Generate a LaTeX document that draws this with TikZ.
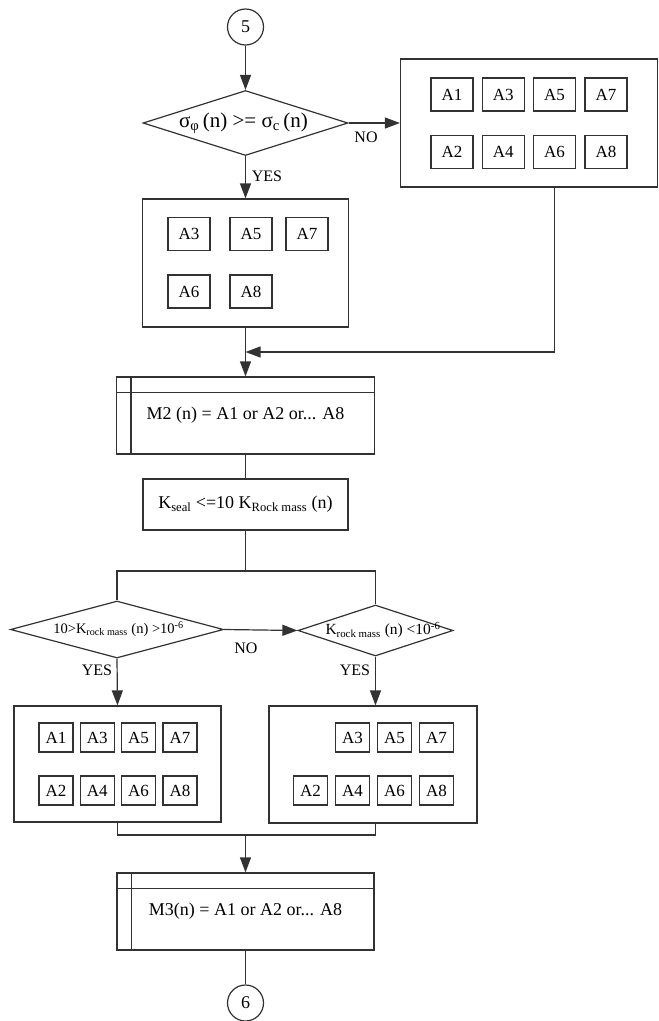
\documentclass[tikz,border=0pt]{standalone}
\usepackage{fontspec}
\setmainfont{Liberation Serif}
\definecolor{lineclr}{RGB}{50,50,50}
\usetikzlibrary{arrows.meta, positioning, shapes.geometric, calc}

\tikzset{
  box/.style={draw=lineclr, rectangle, inner sep=0pt},
  abox/.style={draw=lineclr, rectangle, inner sep=0pt, font=\fontsize{17}{17}\selectfont},
  dec/.style={draw=lineclr, diamond, inner sep=0pt},
  conn/.style={draw=lineclr, circle, minimum size=36pt, inner sep=0pt, font=\fontsize{18}{18}\selectfont},
  arr/.style={draw=lineclr, -{Triangle[length=15pt, width=11pt]}},
  lbl/.style={font=\fontsize{16}{16}\selectfont},
  big/.style={font=\fontsize{18}{18}\selectfont}
}

\begin{document}
\begin{tikzpicture}[x=1pt, y=-1pt, line width=1.2pt]
  \useasboundingbox (0,0) rectangle (659,1021);
  % Connector in
  \node[conn] (c5) at (245.5,27) {5};
  % Stress check
  \node[dec, minimum width=205pt, minimum height=65pt] (d1) at (245.5,123) {};
  \node[font=\fontsize{21}{21}\selectfont] (d1t) at (243.5,123)
    {σ\textsubscript{φ}\,(n) >= σ\textsubscript{c}\,(n)};
  \draw[arr] (c5) -- (d1.north);
  % NO branch: all alternatives
  \node[box, minimum width=257pt, minimum height=128pt] (rb) at (529,123) {};
  \foreach \c in {0,...,3} {
    \pgfmathtruncatemacro\ia{2*\c+1}
    \pgfmathtruncatemacro\ib{2*\c+2}
    \node[abox, minimum width=42pt, minimum height=33pt] (rA\ia) at (452+\c*51.3, 94.5) {A\ia};
    \node[abox, minimum width=42pt, minimum height=33pt] (rA\ib) at (452+\c*51.3, 152) {A\ib};
  }
  \draw[arr] (d1.east) -- (rb.west);
  \node[lbl] (no1) at (366,137) {NO};
  % YES branch
  \node[box, minimum width=206pt, minimum height=128pt] (b2) at (245.5,263) {};
  \foreach \a/\x/\y in {3/189/234, 5/251/234, 7/307/234, 6/189/291.5, 8/251/291.5}
    \node[abox, minimum width=42pt, minimum height=33pt] (mA\a) at (\x,\y) {A\a};
  \draw[arr] (d1.south) -- (b2.north);
  \node[lbl] (yes1) at (267,176) {YES};
  % Merge
  \coordinate (mg) at (245.5,352);
  \draw[arr] (rA5.south |- rb.south) |- (mg);
  % M2
  \node[box, big, minimum width=258pt, minimum height=77pt] (m2) at (245.5,415.5)
    {M2 (n) = A1 or A2 or... A8};
  \draw[lineclr] ($(m2.north west)+(0,16)$) -- ($(m2.north east)+(0,16)$);
  \draw[lineclr] ($(m2.north west)+(15,0)$) -- ($(m2.south west)+(15,0)$);
  \draw[arr] (b2.south) -- (m2.north);
  % Permeability
  \node[box, big, minimum width=205pt, minimum height=51pt] (k) at (245.5,504.5)
    {K\textsubscript{seal} <=10 K\textsubscript{Rock mass} (n)};
  \draw[lineclr] (m2.south) -- (k.north);
  % Split
  \coordinate (sp) at (245.5,571);
  \node[dec, minimum width=213pt, minimum height=57pt] (d2) at (117,629.5) {};
  \node[font=\fontsize{14.5}{14.5}\selectfont] (d2t) at (118.5,629)
    {10>K\textsubscript{rock mass} (n) >10\textsuperscript{-6}};
  \node[dec, minimum width=155pt, minimum height=51pt] (d3) at (375.5,630.5) {};
  \node[font=\fontsize{15.5}{15.5}\selectfont] (d3t) at (383,630)
    {K\textsubscript{rock mass} (n) <10\textsuperscript{-6}};
  \draw[lineclr] (k.south) -- (sp);
  \draw[lineclr] (d2.north) -- (d2.north |- sp) -- (d3.north |- sp) -- (d3.north);
  \draw[arr] (d2.east) -- (d3.west);
  \node[lbl] (no2) at (246,648) {NO};
  % Lower alternatives
  \node[box, minimum width=207pt, minimum height=116pt] (lb) at (117.5,764) {};
  \foreach \c in {0,...,3} {
    \pgfmathtruncatemacro\ia{2*\c+1}
    \pgfmathtruncatemacro\ib{2*\c+2}
    \node[abox, minimum width=34pt, minimum height=29pt] (lA\ia) at (56+\c*41.3, 737.5) {A\ia};
    \node[abox, minimum width=34pt, minimum height=29pt] (lA\ib) at (56+\c*41.3, 790.5) {A\ib};
  }
  \node[box, minimum width=208pt, minimum height=117pt] (rb2) at (373,764.5) {};
  \foreach \c in {0,...,3} {
    \pgfmathtruncatemacro\ib{2*\c+2}
    \node[abox, minimum width=34pt, minimum height=29pt] (kA\ib) at (310.5+\c*42, 790.5) {A\ib};
  }
  \foreach \c in {1,2,3} {
    \pgfmathtruncatemacro\ia{2*\c+1}
    \node[abox, minimum width=34pt, minimum height=29pt] (kA\ia) at (310.5+\c*42, 737.5) {A\ia};
  }
  \draw[arr] (d2.south) -- (lb.north);
  \draw[arr] (d3.south) -- (d3.south |- rb2.north);
  \node[lbl] (yes2) at (97,670) {YES};
  \node[lbl] (yes3) at (355,670) {YES};
  % Join
  \coordinate (jn) at (245.5,835);
  \draw[lineclr] (lb.south) -- (lb.south |- jn) -- (d3.south |- jn) -- (d3.south |- rb2.south);
  % M3
  \node[box, big, minimum width=257pt, minimum height=77pt] (m3) at (245.5,911.5)
    {M3(n) = A1 or A2 or... A8};
  \draw[lineclr] ($(m3.north west)+(0,16)$) -- ($(m3.north east)+(0,16)$);
  \draw[lineclr] ($(m3.north west)+(15,0)$) -- ($(m3.south west)+(15,0)$);
  \draw[arr] (jn) -- (m3.north);
  % Connector out
  \node[conn] (c6) at (245.5,1003) {6};
  \draw[lineclr] (m3.south) -- (c6.north);
\end{tikzpicture}
\end{document}
